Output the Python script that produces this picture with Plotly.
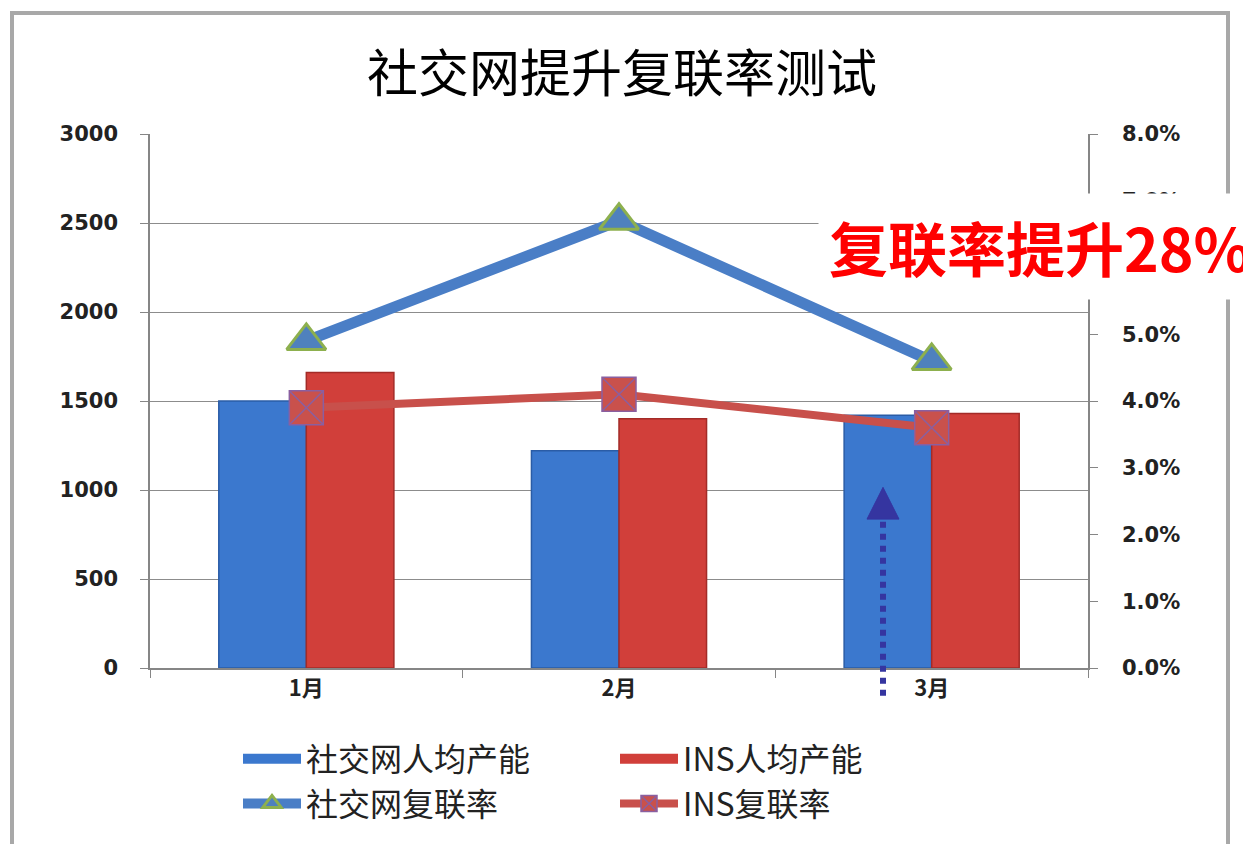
import plotly.graph_objects as go

months = ["1月", "2月", "3月"]
social_output = [1500, 1220, 1420]
ins_output = [1660, 1400, 1430]
social_rate = [0.049, 0.067, 0.046]
ins_rate = [0.039, 0.041, 0.036]
left_ticks = [0, 500, 1000, 1500, 2000, 2500, 3000]
right_ticks = [0, 0.01, 0.02, 0.03, 0.04, 0.05, 0.06, 0.07, 0.08]

W, H = 1243, 844
L, R, T, B = 150, 1088, 134, 672

BLUE, BLUE_EDGE = "#3B78CE", "#2A5CA6"
RED, RED_EDGE = "#D13F3A", "#A32B27"

def px(x):
    return (x - L) / (R - L)

def py(y):
    return (B - y) / (B - T)

fig = go.Figure()
fig.add_trace(go.Bar(x=months, y=social_output, name="社交网人均产能", showlegend=False,
                     legendgroup="a",
                     marker=dict(color=BLUE, line=dict(color=BLUE_EDGE, width=1.5))))
fig.add_trace(go.Bar(x=months, y=ins_output, name="INS人均产能", showlegend=False,
                     legendgroup="b",
                     marker=dict(color=RED, line=dict(color=RED_EDGE, width=1.5))))
# legend swatches for the bar series (wide rectangles like the reference)
fig.add_trace(go.Scatter(x=[None], y=[None], name="社交网人均产能", mode="lines",
                         legendgroup="a", line=dict(color=BLUE, width=18)))
fig.add_trace(go.Scatter(x=[None], y=[None], name="INS人均产能", mode="lines",
                         legendgroup="b", line=dict(color=RED, width=18)))
fig.add_trace(go.Scatter(x=months, y=social_rate, name="社交网复联率", yaxis="y2",
                         mode="lines+markers",
                         line=dict(color="#4A7EC6", width=11),
                         marker=dict(symbol="triangle-up", size=34, color="#4F81BD",
                                     line=dict(color="#8DB04E", width=3))))
fig.add_trace(go.Scatter(x=months, y=ins_rate, name="INS复联率", yaxis="y2",
                         mode="lines+markers",
                         line=dict(color="#C8504B", width=8),
                         marker=dict(symbol="square-x", size=34, color="#C9514C",
                                     line=dict(color="#8A5FA0", width=1.5))))

tickfont = dict(family="DejaVu Sans", size=21, color="#222222", weight="bold")

fig.update_layout(
    width=W, height=H,
    margin=dict(l=L, r=W - R, t=T, b=H - B),
    paper_bgcolor="white", plot_bgcolor="white",
    barmode="group", bargap=0.44, bargroupgap=0,
    title=dict(text="社交网提升复联率测试", x=622 / W, xanchor="center",
               y=1 - 74 / H, yanchor="middle",
               font=dict(family="Noto Sans CJK SC", size=51, color="#000000")),
    xaxis=dict(showline=True, linecolor="#868686", linewidth=1.5,
               ticks="outside", tickson="boundaries", ticklen=8, tickcolor="#868686",
               tickfont=dict(family="Noto Sans CJK SC", size=22, color="#222222", weight="bold"),
               showgrid=False),
    yaxis=dict(range=[0, 3000], tickvals=left_ticks, showline=True, linecolor="#868686",
               linewidth=1.5, ticks="outside", ticklen=8, tickcolor="#868686",
               showgrid=True, gridcolor="#8C8C8C", gridwidth=1,
               tickfont=tickfont, ticklabelstandoff=18,
               zeroline=False),
    yaxis2=dict(range=[0, 0.08], tickvals=right_ticks, tickformat=".1%", overlaying="y",
                side="right", showline=True, linecolor="#868686", linewidth=1.5,
                ticks="outside", ticklen=8, tickcolor="#868686", showgrid=False,
                tickfont=tickfont, ticklabelstandoff=20,
                zeroline=False),
    legend=dict(orientation="h", x=px(238), xanchor="left", y=py(736), yanchor="top",
                entrywidth=304, entrywidthmode="pixels", itemwidth=58,
                font=dict(family="Noto Sans CJK SC", size=32, color="#222222"),
                tracegroupgap=0, traceorder="normal"),
    showlegend=True,
)

# outer frame
fig.add_shape(type="rect", xref="paper", yref="paper",
              x0=px(12), x1=px(1228), y0=py(870), y1=py(12),
              line=dict(color="#A8A8A8", width=4), layer="below")

# dotted arrow
ax = px(883)
fig.add_shape(type="line", xref="paper", yref="paper",
              x0=ax, x1=ax, y0=py(700), y1=py(522),
              line=dict(color="#3535A0", width=6, dash="dot"))
fig.add_shape(type="path", xref="paper", yref="paper",
              path=f"M {px(867)} {py(522)} L {ax} {py(490)} L {px(899)} {py(522)} Z",
              fillcolor="#3535A0", line=dict(color="#3535A0", width=1))

fig.add_annotation(text="<b>复联率提升28%</b>", xref="paper", yref="paper",
                   x=px(818), y=py(247), xanchor="left", yanchor="middle",
                   showarrow=False, bgcolor="white", borderpad=10,
                   font=dict(family="Noto Sans CJK SC", size=59, color="#FF0000"))

fig.write_html("out.html", config={"displayModeBar": False},
               post_script="document.body.style.margin='0';")
